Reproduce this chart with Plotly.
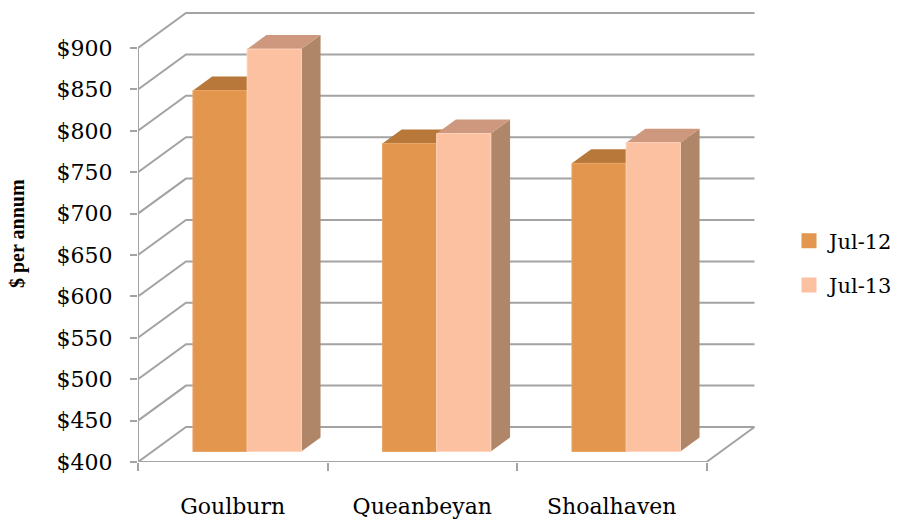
import plotly.graph_objects as go

# ---- data ----
categories = ["Goulburn", "Queanbeyan", "Shoalhaven"]
series_names = ["Jul-12", "Jul-13"]
jul12 = [836, 772, 748]
jul13 = [886, 784, 773]
tick_values = [400, 450, 500, 550, 600, 650, 700, 750, 800, 850, 900]
tick_labels = ["$400", "$450", "$500", "$550", "$600", "$650",
               "$700", "$750", "$800", "$850", "$900"]

# ---- styling / oblique projection ----
FONT = "DejaVu Serif"
GRID = "#a3a3a3"
PX_PER_CAT = 189.5          # pixels per category along the front plane
PX_PER_VAL = 0.828          # pixels per dollar
DEPTH_X = 48.0 / PX_PER_CAT  # full floor depth, in category units
DEPTH_Y = 35.0 / PX_PER_VAL  # full floor depth, in value units
BAR_Z0, BAR_DZ = 0.30, 0.40  # bar front plane and bar thickness (fraction of depth)
BAR_W = 54.2 / PX_PER_CAT

PLOT_L, PLOT_R, PLOT_T, PLOT_B = 138, 0, 4, 58
W, H = 899, 520
plot_w = W - PLOT_L - PLOT_R
plot_h = H - PLOT_T - PLOT_B
x_lo = -0.5
x_hi = x_lo + plot_w / PX_PER_CAT
y_lo = tick_values[0]
y_hi = y_lo + plot_h / PX_PER_VAL

colors = {
    "Jul-12": dict(front="#e2964e", top="#b7783a", side="#a86d36", edge="#e9a566"),
    "Jul-13": dict(front="#fbc1a0", top="#cd987e", side="#b08669", edge="#ffd3ba"),
}

fig = go.Figure()


def poly(xs, ys, fill, line_color=None, lw=0):
    fig.add_trace(go.Scatter(
        x=list(xs) + [xs[0]], y=list(ys) + [ys[0]],
        mode="lines", fill="toself", fillcolor=fill,
        line=dict(color=line_color or fill, width=lw),
        hoverinfo="skip", showlegend=False,
    ))


def line(xs, ys, color=GRID, width=2):
    fig.add_trace(go.Scatter(
        x=xs, y=ys, mode="lines", line=dict(color=color, width=width),
        hoverinfo="skip", showlegend=False,
    ))


n = len(categories)
x_front_l = -0.5
x_front_r = n - 0.5

# back wall gridlines with their diagonal return on the left side wall
for v in tick_values:
    line([x_front_l, x_front_l + DEPTH_X, x_front_r + DEPTH_X],
         [v, v + DEPTH_Y, v + DEPTH_Y])

# front-left axis edge and floor edges
line([x_front_l, x_front_l], [tick_values[0], tick_values[-1]])
line([x_front_l, x_front_r, x_front_r + DEPTH_X],
     [y_lo, y_lo, y_lo + DEPTH_Y])

# bars
ox = BAR_Z0 * DEPTH_X
oy = BAR_Z0 * DEPTH_Y
dx = BAR_DZ * DEPTH_X
dy = BAR_DZ * DEPTH_Y
for i in range(n):
    for k, (name, vals) in enumerate([("Jul-12", jul12), ("Jul-13", jul13)]):
        c = colors[name]
        x0 = i + ox + (k - 1) * BAR_W
        x1 = x0 + BAR_W
        b = y_lo + oy
        t = vals[i] + oy
        # right side face
        poly([x1, x1, x1 + dx, x1 + dx], [b, t, t + dy, b + dy], c["side"])
        # top face
        poly([x0, x1, x1 + dx, x0 + dx], [t, t, t + dy, t + dy], c["top"])
        # front face
        poly([x0, x1, x1, x0], [b, b, t, t], c["front"], c["edge"], 1)

# legend entries
for name in series_names:
    fig.add_trace(go.Scatter(
        x=[None], y=[None], mode="markers", name=name,
        marker=dict(symbol="square", size=15, color=colors[name]["front"],
                    line=dict(width=0)),
        legendgroup=name,
    ))

fig.add_annotation(
    text="<b>$ per annum</b>", textangle=-90,
    xref="paper", yref="paper",
    x=(17 - PLOT_L) / plot_w, y=(H - PLOT_B - 233) / plot_h,
    xanchor="center", yanchor="middle", showarrow=False,
    font=dict(family="Liberation Serif", size=20, color="#000000"),
)

fig.update_layout(
    width=W, height=H,
    margin=dict(l=PLOT_L, r=PLOT_R, t=PLOT_T, b=PLOT_B, pad=0,
                autoexpand=False),
    paper_bgcolor="white", plot_bgcolor="white",
    showlegend=True,
    legend=dict(
        xref="container", yref="container",
        x=789 / W, xanchor="left",
        y=(H - 263) / H, yanchor="middle",
        font=dict(family=FONT, size=21, color="#000000"),
        tracegroupgap=14, itemwidth=30, bgcolor="rgba(0,0,0,0)",
    ),
    xaxis=dict(
        range=[x_lo, x_hi], tickmode="array",
        tickvals=list(range(n)), ticktext=categories,
        showgrid=False, zeroline=False, showline=False, ticks="",
        ticklabelstandoff=29, automargin=False,
        tickfont=dict(family=FONT, size=22, color="#000000"),
        minor=dict(tickmode="array", tickvals=[i - 0.5 for i in range(n + 1)],
                   ticks="outside", ticklen=8, tickwidth=2, tickcolor=GRID,
                   showgrid=False),
        fixedrange=True,
    ),
    yaxis=dict(
        range=[y_lo, y_hi], tickmode="array",
        tickvals=tick_values, ticktext=tick_labels,
        showgrid=False, zeroline=False, showline=False,
        ticks="outside", ticklen=7, tickwidth=2, tickcolor=GRID,
        ticklabelstandoff=13, automargin=False,
        tickfont=dict(family=FONT, size=22, color="#000000"),
        fixedrange=True,
    ),
)

fig.write_html("out.html")
